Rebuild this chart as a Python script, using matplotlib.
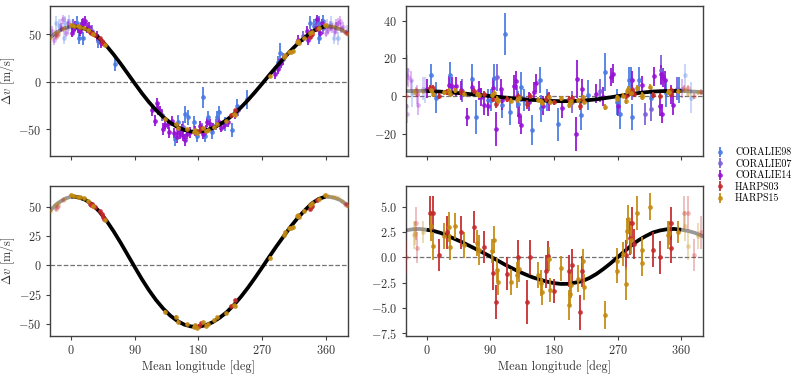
import numpy as np
import matplotlib
matplotlib.use('Agg')
import matplotlib.pyplot as plt

plt.rcParams['font.family'] = ['cmr10', 'DejaVu Serif']
plt.rcParams['mathtext.fontset'] = 'cm'
plt.rcParams['axes.formatter.use_mathtext'] = True
plt.rcParams['font.size'] = 8.8

# model curves, sampled every 10 deg over one orbit
lam_curve = np.arange(0, 361, 10)
v_b_curve = [58.6, 58.0, 55.8, 51.8, 45.8, 38.0, 29.0, 19.2, 8.8, -1.6,
             -11.8, -21.2, -29.6, -36.8, -42.8, -47.4, -50.6, -52.2, -52.4, -51.2,
             -48.6, -44.8, -40.0, -34.0, -27.0, -19.2, -10.8, -2.0, 7.0, 15.8,
             24.2, 32.5, 40.0, 46.5, 52.5, 56.5, 58.6]
v_c_curve = [2.72, 2.6, 2.4, 2.1, 1.8, 1.5, 1.15, 0.8, 0.45, 0.08,
             -0.3, -0.7, -1.05, -1.4, -1.7, -1.98, -2.2, -2.4, -2.55, -2.63,
             -2.62, -2.5, -2.35, -2.05, -1.65, -1.15, -0.6, 0.0, 0.6, 1.2,
             1.7, 2.1, 2.45, 2.65, 2.77, 2.8, 2.72]

# (mean longitude [deg], dv [m/s], error [m/s]) -- planet b phase
c98_b = [(8, 62, 7), (11.3, 46.8, 7), (17.4, 46.1, 7), (37.7, 43.3, 7), (61.3, 19.4, 8),
         (147, -60.2, 7), (151, -42.2, 7), (161, -33.8, 9), (166, -37.4, 8), (174.4, -42.6, 7),
         (177.7, -56.6, 7), (187, -16.3, 11), (189.5, -56.6, 7), (194, -37.4, 7), (199, -53.1, 7),
         (206, -37.4, 7), (209, -32.1, 7), (218, -44.4, 7), (227, -50.7, 7), (234, -25, 7),
         (248.4, -18, 10), (293, 20.5, 7), (295, 31, 10), (338, 62.6, 7), (343, 59, 7),
         (350, 46.8, 7), (351, 62.6, 7), (357, 64, 7)]
c07_b = [(2, 60, 6), (14, 57, 6), (30, 54, 6), (128, -35, 6), (158, -47, 6), (185, -49, 6),
         (205, -45, 6), (236, -30, 6), (292, 16, 6), (300, 24, 6), (328, 48, 6), (346, 60, 6),
         (356, 57, 6)]
c14_b = [(1, 52, 5), (3, 55, 5), (5.6, 59, 5), (9.4, 56.6, 5), (12.7, 53.8, 5), (15, 60.8, 5),
         (17, 62, 5), (19.8, 64.4, 5), (22, 57, 5), (25, 58, 5), (36.3, 48.6, 5), (42.4, 41, 5),
         (114, -29.6, 6), (118, -40.9, 6), (121, -22.6, 6), (122.6, -28.6, 6), (126, -30.4, 5),
         (130.5, -49.6, 6), (133, -45, 5), (136.7, -44.4, 5), (138.6, -53.1, 6), (143, -41, 5),
         (146, -54, 5), (149.5, -58.4, 6), (151.8, -50.7, 5), (154, -55, 5), (156.5, -49.6, 5),
         (158, -57, 5), (161.2, -61.2, 6), (163.6, -55, 5), (168, -53, 6), (175.4, -51.4, 5),
         (182, -46, 5), (186, -55, 5), (190.5, -50.7, 5), (192, -42.6, 5), (196.5, -44.4, 5),
         (201, -47.9, 5), (208.6, -42.6, 5), (212, -48, 5), (216, -45, 5), (222.5, -42.6, 5),
         (232, -33.8, 5), (289, 8.2, 5), (292, 13.5, 5), (293.6, 18.7, 5), (297, 20, 5),
         (320.6, 44, 5), (333.3, 53.8, 5), (335.6, 44, 5), (339, 50.3, 5), (345.7, 57.3, 5),
         (348, 66, 5), (352.3, 52.1, 5), (355.4, 61.6, 5)]
h03_b = [(27, 52.5, 1), (28.5, 51.5, 1), (30, 52, 1), (31.5, 50.5, 1), (33, 49.5, 1),
         (41, 46.5, 1), (43.8, 43.5, 1), (45.5, 41.5, 1), (47, 39.5, 1), (180.5, -51.4, 1),
         (184, -49, 1), (226, -35, 1), (232, -30, 1), (338, 47.7, 1), (340, 49.5, 1),
         (341, 50.5, 1), (348, 55.7, 1)]
h15_b = [(0, 59.8, 1), (4, 59, 1), (9.5, 58.5, 1), (13, 58, 1), (18, 57, 1), (23.6, 55, 1),
         (31, 50.5, 1), (47.2, 38.6, 1), (132.4, -39.5, 1), (148.4, -43.8, 1), (151, -48, 1),
         (164, -50, 1), (173.4, -52.3, 1), (175, -50.8, 1), (178, -53.7, 1), (186, -48.5, 1),
         (191, -51.4, 1), (193, -50.2, 1), (201.7, -47, 1), (206, -44.3, 1), (218.7, -41, 1),
         (230, -34, 1), (232, -34.7, 1), (281, 6.5, 1), (300.7, 26, 1), (303, 28, 1),
         (308, 31.5, 1), (311, 32, 1), (314, 32.5, 1), (319.5, 42, 1), (321, 43, 1),
         (323, 41, 1), (330, 46.6, 1), (337.4, 51.4, 1), (341, 53, 1), (350, 56.5, 1),
         (359.6, 60, 1)]

# planet c phase
c98_c = [(5.7, 11, 6), (13.7, -0.7, 8), (32.6, 11, 7), (63.7, 9.3, 8), (70, -11, 9),
         (86, -2, 6), (90.6, -2, 6), (95, 9.9, 7), (107, -4.8, 7), (110.4, 33, 11),
         (117.5, -8.3, 7), (129.8, -4.2, 7), (134, 4.9, 8), (137.8, -2.1, 6), (148.7, -18, 8),
         (160, 8.5, 7), (161, -6.5, 7), (170, -2, 6), (186, -15, 9), (218, -10, 8),
         (227.5, 0.5, 8), (252.5, 12.9, 10), (269, -3, 7), (273, -9.2, 8), (285.5, 8.5, 7),
         (289, 8.5, 7), (290, -11, 7), (299.7, 8.5, 7), (317, -1.2, 6), (339, 1.5, 7),
         (357, 3.2, 7)]
c07_c = [(50, 3, 6), (100, 10, 7), (128, 0, 6), (205, -3, 6), (245, 3, 6), (290, 4, 6),
         (308.6, -9.5, 6), (318, -7, 6), (332, 14, 8), (354, 4, 6)]
c14_c = [(1, 4, 5), (31.6, 5.8, 5), (36, 5.3, 5), (41, 5.3, 5), (48, 3.2, 5), (57.6, -11, 5),
         (64.7, 5, 5), (74, 3.2, 5), (76.4, -0.4, 5), (81, -4.8, 5), (86, -5.3, 5), (94, 4.6, 5),
         (97.7, -17.6, 9), (104.8, 4, 5), (106, -2.1, 5), (123.6, 5.3, 6), (126, 8.1, 5),
         (130.7, -10, 5), (133, -15.3, 5), (145, -3, 5), (152, 2.3, 5), (155, 7, 5),
         (165, -5, 5), (173, -3, 5), (192, -6.5, 5), (211, -19.8, 9), (212, 9.3, 10),
         (220, 4, 5), (240, 1.4, 5), (248.7, -0.35, 5), (260.5, 10.2, 5), (263, 12, 5),
         (271, -5.3, 5), (291, 8.5, 5), (304, 5.8, 5), (321, 10.6, 5), (330, -5.3, 5),
         (331, 11.6, 5), (332.7, -9.2, 5), (334, 10, 5), (337.4, 8.5, 5), (346, 1, 5),
         (347.8, -4.8, 5)]
h03_c = [(4, 4.4, 1.7), (9, 4.4, 1.7), (17.5, 0.2, 1.6), (28, 2.45, 1.6), (48, 2.45, 1.6),
         (66.5, 3.0, 1.6), (80.5, 1.0, 1.6), (94, -1.55, 1.7), (97.5, -4.4, 1.7), (114, -1.6, 1.6),
         (128.5, 0.0, 1.7), (142, -4.4, 2.2), (146, 0.0, 1.7), (169, -1.4, 1.6), (171, 0.15, 1.5),
         (179.5, -3.3, 1.2), (201, -1.35, 1.6), (206, -0.75, 1.6), (216.5, -5.45, 1.7),
         (219, -1.4, 1.5), (281.5, 0.2, 1.5), (287, 1.9, 1.7), (291, 3.4, 1.6), (293, 1.3, 1.5),
         (319.5, 0.75, 1.7), (330, 0.0, 1.6), (345, 3.35, 1.6), (346, 0.95, 1.5)]
h15_c = [(5.5, 3.1, 1.5), (9, 1.1, 1.4), (24, 2.1, 1.3), (31.5, 3.0, 1.5), (32.5, 1.0, 1.3),
         (39.5, 3.1, 1.3), (53, 1.2, 1.3), (71, 1.4, 1.3), (73.5, 0.75, 1.5), (92.5, 0.6, 1.2),
         (95.5, 1.75, 1.3), (99.5, -1.25, 1.2), (101, -2.45, 1.3), (119, -2.45, 1.3),
         (128, -1.75, 1.3), (131, -1.2, 1.2), (157.5, -1.75, 1.3), (162, -2.55, 1.3),
         (163.5, -3.4, 1.3), (173.5, -0.2, 1.2), (174, -3.2, 1.2), (189.5, -1.1, 1.2),
         (201.5, -4.7, 1.5), (202.5, -3.6, 1.3), (203.5, -2.75, 1.3), (214.5, -2.1, 1.3),
         (221, -0.4, 1.2), (222, -2.95, 1.3), (252.5, -5.7, 1.4), (268.5, -0.4, 1.3),
         (269.5, -1.35, 1.2), (277, 0.3, 1.2), (281.5, -2.6, 1.6), (283.5, 2.6, 1.3),
         (285, 3.75, 1.4), (289.5, 1.75, 1.4), (298, 4.4, 1.7), (304.5, 0.7, 1.3),
         (305, -0.55, 1.3), (316.5, 5.0, 1.3), (341.5, 2.2, 1.4), (343, 2.4, 1.2),
         (355, 2.5, 1.1)]

labels = ['CORALIE98', 'CORALIE07', 'CORALIE14', 'HARPS03', 'HARPS15']
colors = ['#4a7be3', '#7c5fd8', '#9612d6', '#c42a2c', '#c48a12']

XLIM = (-30, 391)


def draw_set(ax, data, color, label, z):
    lon, v, err = (np.array(c, dtype=float) for c in zip(*data))
    kw = dict(fmt='o', ms=3.4, color=color, elinewidth=1.4, capsize=0, mew=0)
    h = ax.errorbar(lon, v, yerr=err, zorder=z, label=label, alpha=0.9, **kw)
    for shift in (-360, 360):
        s = lon + shift
        m = (s >= XLIM[0]) & (s <= XLIM[1])
        ax.errorbar(s[m], v[m], yerr=err[m], zorder=z - 0.5, alpha=0.3, **kw)
    return h


def draw_curve(ax, curve):
    ax.plot(lam_curve, curve, color='k', lw=2.7, zorder=3, solid_capstyle='butt')
    for shift in (-360, 360):
        ax.plot(lam_curve + shift, curve, color='k', lw=2.7, alpha=0.4, zorder=3)
    ax.axhline(0, color='0.45', ls='--', lw=0.9, zorder=1)


fig, axes = plt.subplots(2, 2, figsize=(8.1, 3.76), dpi=100, sharex=True)
fig.subplots_adjust(left=0.0617, right=0.868, top=0.984, bottom=0.1064,
                    wspace=0.195, hspace=0.2)

panels = [
    (axes[0, 0], [c98_b, c07_b, c14_b, h03_b, h15_b], v_b_curve, (-78, 80), [-50, 0, 50]),
    (axes[0, 1], [c98_c, c07_c, c14_c, h03_c, h15_c], v_c_curve, (-31.7, 47.8), [-20, 0, 20, 40]),
    (axes[1, 0], [None, None, None, h03_b, h15_b], v_b_curve, (-60.3, 67.6), [-50, -25, 0, 25, 50]),
    (axes[1, 1], [None, None, None, h03_c, h15_c], v_c_curve, (-7.77, 7.04),
     [-7.5, -5.0, -2.5, 0.0, 2.5, 5.0]),
]

handles = {}
for ax, sets, curve, ylim, yticks in panels:
    draw_curve(ax, curve)
    for i, data in enumerate(sets):
        if data is None:
            continue
        z = 2 if i < 3 else 4
        handles[labels[i]] = draw_set(ax, data, colors[i], labels[i], z)
    ax.set_yticks(yticks)
    ax.set_ylim(*ylim)
    ax.set_xlim(*XLIM)
    for spine in ax.spines.values():
        spine.set_edgecolor('0.25')
        spine.set_linewidth(1.0)
    ax.tick_params(colors='0.25', labelcolor='0.2', length=3, width=0.8, pad=3)

axes[1, 0].set_xticks([0, 90, 180, 270, 360])
for ax in axes[1]:
    ax.set_xlabel('Mean longitude [deg]', color='0.2', labelpad=2)
for ax in axes[:, 0]:
    ax.set_ylabel(r'$\Delta v$ [m/s]', color='0.2', labelpad=1)

fig.legend([handles[l] for l in labels], labels, loc='center left',
           bbox_to_anchor=(715 / 810, 0.533), frameon=False, borderpad=0,
           borderaxespad=0, handlelength=1.0, handletextpad=1.0, labelspacing=0.2,
           fontsize=7.2)

plt.savefig('out.png', dpi=100)
plt.close()
